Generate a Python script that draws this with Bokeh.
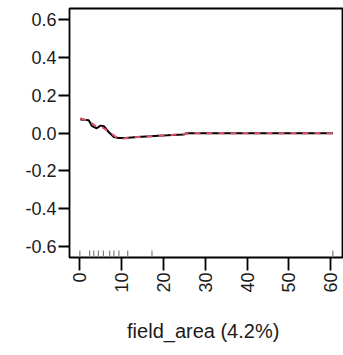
import math
from bokeh.plotting import figure
from bokeh.models import Range1d, FixedTicker
from bokeh.embed import file_html
from bokeh.resources import INLINE

# partial dependence (black, raw)
pd_x = [0.2, 2.2, 3.0, 4.1, 5.0, 5.8, 7.0, 8.2, 9.4, 11.0, 13.8, 16.9, 18.9, 21.0, 24.9, 25.5, 30.0, 40.0, 50.0, 60.5]
pd_y = [0.072, 0.069, 0.037, 0.026, 0.040, 0.037, 0.005, -0.020, -0.026, -0.025, -0.020, -0.016, -0.013, -0.011, -0.007, 0.0, 0.0, 0.0, 0.0, 0.0]
# smoothed (red, dashed)
sm_x = [0.2, 2.5, 4.0, 5.5, 7.5, 9.0, 10.5, 14.0, 19.0, 24.0, 27.0, 40.0, 50.0, 60.5]
sm_y = [0.080, 0.060, 0.035, 0.030, 0.000, -0.025, -0.028, -0.020, -0.014, -0.006, 0.0, 0.0, 0.0, 0.0]
# rug (deciles of field_area)
rug_x = [0.07, 2.4, 3.4, 4.5, 5.7, 7.2, 8.2, 9.4, 11.5, 17.3, 60.5]

x_ticks = [0, 10, 20, 30, 40, 50, 60]
y_ticks = [-0.6, -0.4, -0.2, 0.0, 0.2, 0.4, 0.6]
y_labels = ["-0.6", "-0.4", "-0.2", "0.0", "0.2", "0.4", "0.6"]
x_label = "field_area  (4.2%)"

ymin, ymax = -0.658, 0.66
p = figure(width=343, height=355, output_backend="svg", toolbar_location=None,
           x_range=Range1d(-2.4, 62.8), y_range=Range1d(ymin, ymax),
           min_border_left=69, min_border_right=1, min_border_top=8, min_border_bottom=98)
p.grid.visible = False
p.outline_line_color = "black"
p.outline_line_width = 1.8
p.background_fill_color = "white"
p.border_fill_color = "white"

FONT = "Liberation Sans"
for ax in (p.xaxis[0], p.yaxis[0]):
    ax.axis_line_color = None
    ax.minor_tick_line_color = None
    ax.minor_tick_out = 23
    ax.major_tick_line_color = "black"
    ax.major_tick_line_width = 1.8
    ax.major_tick_in = 0
    ax.major_label_text_font = FONT
    ax.major_label_text_font_size = "18px"
    ax.major_label_text_color = "#1a1a1a"

p.xaxis.ticker = FixedTicker(ticks=x_ticks, minor_ticks=[])
p.xaxis.major_tick_out = 13
p.xaxis.major_label_orientation = math.pi / 2
p.xaxis.major_label_standoff = 2
p.xaxis.axis_label = x_label
p.xaxis.axis_label_text_font = FONT
p.xaxis.axis_label_text_font_size = "20px"
p.xaxis.axis_label_text_font_style = "normal"
p.xaxis.axis_label_text_color = "#1a1a1a"
p.xaxis.axis_label_standoff = 24

p.yaxis.ticker = FixedTicker(ticks=y_ticks, minor_ticks=[])
p.yaxis.major_label_overrides = {t: l for t, l in zip(y_ticks, y_labels)}
p.yaxis.major_tick_out = 11
p.yaxis.major_label_standoff = 2
p.yaxis.major_label_orientation = "horizontal"

# rug
p.segment(x0=rug_x, x1=rug_x, y0=[ymin] * len(rug_x), y1=[ymin + 0.037] * len(rug_x),
          line_color="#808080", line_width=1.2)

p.line(pd_x, pd_y, line_color="black", line_width=2)
p.line(sm_x, sm_y, line_color="#DF536B", line_width=2, line_dash="6 6")

open("out.html", "w").write(file_html(p, INLINE))
